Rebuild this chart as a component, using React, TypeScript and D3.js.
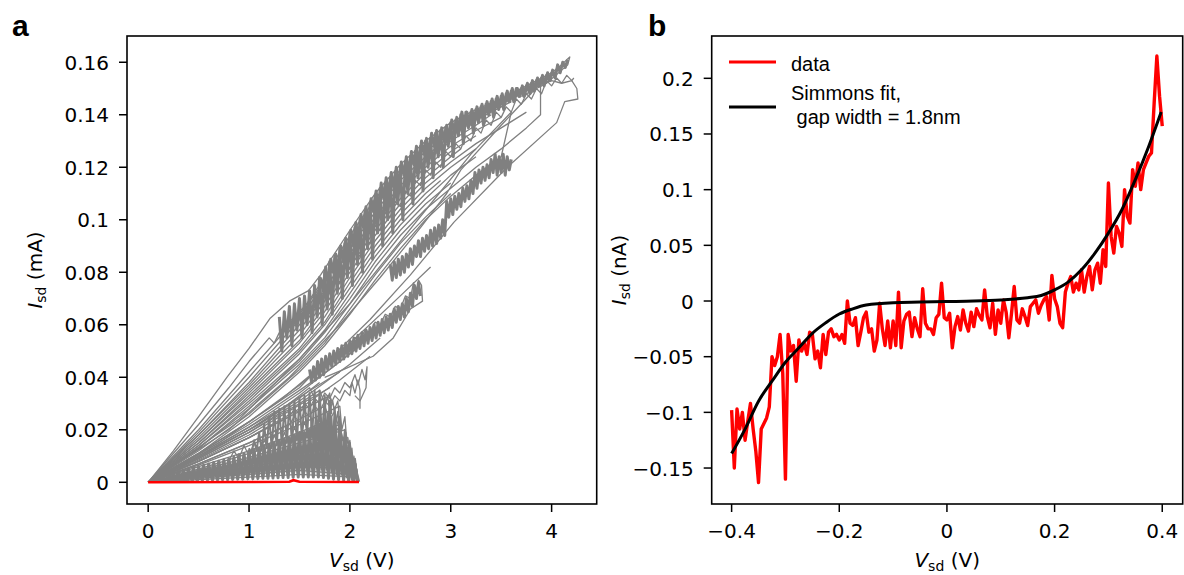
import React from "react";
import * as d3 from "d3";

// ---------------- Panel a : data ----------------
const aXTickValues = [0, 1, 2, 3, 4];
const aXTickLabels = ["0", "1", "2", "3", "4"];
const aYTickValues = [0, 0.02, 0.04, 0.06, 0.08, 0.1, 0.12, 0.14, 0.16];
const aYTickLabels = ["0", "0.02", "0.04", "0.06", "0.08", "0.1", "0.12", "0.14", "0.16"];

// gray I-V sweeps, flat lists of V (V), I (mA) pairs
const aBandSweeps: number[][] = [
  [0,0, .25,.012, .5,.025, .78,.040, 1,.051, 1.21,.0625, 1.4,.069, 1.59,.073, 1.71,.079, 2,.096, 2.25,.110, 2.5,.121, 2.75,.130, 3,.137, 3.25,.142, 3.5,.146, 3.75,.151, 4,.156, 4.1,.159, 4.15,.161, 4.18,.162, 4.16,.159, 4.1,.157, 3.95,.152, 3.7,.147],
  [0,0, .5,.022, .8,.036, 1,.046, 1.2,.055, 1.25,.053, 1.3,.057, 1.45,.063, 1.6,.069, 1.8,.079, 2,.091, 2.25,.106],
  [0,0, .5,.020, 1,.042, 1.5,.064, 1.75,.078, 2,.094, 2.25,.108, 2.5,.119, 2.75,.128, 3,.135, 3.25,.141, 3.5,.145, 3.75,.150, 4,.153, 4.1,.152, 4.2,.153, 4.25,.150, 4.26,.146, 4.13,.145, 4.05,.137, 3.56,.120, 3.03,.099, 2.6,.079, 2.2,.062, 1.8,.047, 1.3,.031, .7,.015, 0,0],
  [0,0, .5,.019, 1,.040, 1.5,.062, 1.75,.076, 2,.092, 2.25,.106, 2.5,.117, 2.75,.126, 3,.133, 3.25,.139, 3.5,.144, 3.75,.149],
  [0,0, .5,.018, 1,.038, 1.5,.060, 1.75,.073, 2,.089, 2.25,.103, 2.5,.115, 2.75,.124, 3,.132, 3.25,.138, 3.5,.143, 3.6,.145],
  [0,0, .5,.018, 1,.037, 1.5,.058, 1.75,.071, 2,.087, 2.25,.101, 2.5,.113, 2.75,.122, 3,.130, 3.25,.136, 3.4,.140],
  [0,0, .5,.017, 1,.036, 1.5,.056, 1.75,.069, 2,.085, 2.25,.099, 2.5,.111, 2.75,.120, 3,.128, 3.25,.134, 3.5,.139],
  [0,0, .5,.016, 1,.035, 1.5,.054, 1.75,.067, 2,.082, 2.25,.096, 2.5,.108, 2.75,.118, 3,.126, 3.25,.132],
  [0,0, .5,.016, 1,.034, 1.5,.053, 1.75,.065, 2,.080, 2.25,.094, 2.5,.106, 2.75,.116, 3,.124, 3.1,.127],
  [0,0, .5,.015, 1,.033, 1.5,.051, 1.75,.063, 2,.078, 2.25,.092, 2.5,.104, 2.75,.114, 3,.122, 3.25,.129, 3.5,.135, 3.75,.141],
  [0,0, .5,.015, 1,.032, 1.5,.050, 1.75,.061, 2,.076, 2.25,.090, 2.5,.102, 2.75,.112, 3,.120, 3.25,.127],
  [0,0, .5,.014, 1,.031, 1.5,.049, 1.75,.060, 2,.074, 2.25,.088, 2.5,.100, 2.75,.110, 2.9,.115],
  [0,0, .5,.014, 1,.030, 1.5,.047, 1.75,.058, 2,.072, 2.25,.086, 2.5,.098, 2.75,.108, 3,.117, 3.25,.124],
  [0,0, .5,.013, 1,.029, 1.5,.046, 1.75,.057, 2,.070, 2.25,.084, 2.5,.096, 2.75,.106, 3,.114],
  [0,0, .5,.013, 1,.028, 1.5,.045, 1.75,.055, 2,.068, 2.25,.082, 2.5,.094, 2.75,.104, 3,.112, 3.25,.120, 3.5,.127, 3.75,.135, 3.89,.140, 3.89,.152, 3.5,.136, 3.1,.119, 2.96,.110, 2.7,.097, 2.3,.078, 1.9,.060, 1.4,.040, .8,.020, 0,0],
  [0,0, .5,.012, 1,.026, 1.5,.043, 1.75,.053, 2,.066, 2.25,.079, 2.5,.091, 2.75,.101, 3,.110],
  [0,0, .5,.011, 1,.025, 1.5,.042, 1.75,.052, 2,.064, 2.25,.077, 2.5,.089, 2.75,.100, 3,.109, 3.25,.117, 3.5,.124, 3.6,.141, 3.2,.125, 2.8,.106, 2.4,.087, 2.0,.068, 1.5,.047, .9,.024, 0,0],
];

const aMidSweeps: number[][] = [
  [1.8,.072, 1.85,.078, 1.9,.076, 1.95,.083, 2.0,.081, 2.05,.088, 2.1,.086, 2.15,.093, 2.2,.091, 2.25,.098, 2.3,.096, 2.35,.103, 2.4,.101, 2.45,.107, 2.5,.105, 2.55,.111, 2.6,.109, 2.65,.115, 2.7,.113, 2.75,.119, 2.8,.117, 2.85,.122, 2.9,.120, 2.95,.126, 3.0,.124, 3.05,.129, 3.1,.127, 3.15,.132, 3.2,.130, 3.25,.135, 3.3,.133, 3.35,.138, 3.4,.136, 3.45,.141, 3.5,.139, 3.55,.143, 3.6,.141, 3.65,.146, 3.7,.144, 3.75,.148, 3.8,.146, 3.85,.150, 3.9,.148, 3.95,.153, 4.0,.151, 4.05,.154, 4.1,.152, 4.15,.155, 4.2,.153, 4.22,.154],
  [0,0, .5,.011, 1.0,.023, 1.5,.036, 1.6,.040, 1.65,.043, 1.7,.042, 1.75,.046, 1.8,.045, 1.85,.049, 1.9,.048, 1.95,.052, 2.0,.051, 2.05,.055, 2.1,.054, 2.15,.058, 2.2,.057, 2.25,.061, 2.3,.060, 2.35,.064, 2.4,.063, 2.45,.067, 2.5,.066, 2.55,.071, 2.6,.070, 2.63,.076, 2.66,.072, 2.68,.077, 2.71,.075, 2.72,.069, 2.6,.066, 2.43,.055, 2.23,.048, 1.94,.043, 1.75,.040],
  [0,0, .5,.011, 1.0,.023, 1.5,.037, 2.0,.053, 2.5,.071, 2.8,.082],
  [0,0, .5,.010, 1.0,.021, 1.5,.034, 2.0,.049, 2.4,.063],
  [0,0, .5,.009, 1.0,.019, 1.5,.031, 2.0,.045, 2.3,.055],
  [0,0, .5,.008, 1.0,.017, 1.5,.028, 1.9,.039, 2.2,.048],
  [0,0, .5,.0105, 1.0,.022, 1.5,.035, 1.8,.043, 2.1,.052],
  [0,0, .5,.0095, 1.0,.020, 1.5,.0325, 1.9,.042],
  [0,0, .5,.0085, 1.0,.018, 1.5,.0295, 1.8,.036],
  [0,0, .5,.008, 1.0,.017, 1.4,.025, 1.45,.028, 1.5,.026, 1.55,.030, 1.6,.028, 1.65,.032, 1.7,.030, 1.75,.034, 1.8,.032, 1.85,.036, 1.9,.034, 1.95,.038, 2.0,.036, 2.05,.041, 2.08,.037, 2.12,.043, 2.15,.039, 2.17,.044, 2.16,.036, 2.1,.031, 2.05,.033],
  [0,0, .5,.007, 1.0,.015, 1.4,.022, 1.45,.025, 1.5,.023, 1.55,.027, 1.6,.025, 1.65,.029, 1.7,.027, 1.75,.031, 1.8,.029, 1.85,.033, 1.9,.031, 1.95,.035, 2.0,.033, 2.02,.038, 2.05,.034, 2.08,.039, 2.1,.035, 2.1,.028],
  [1.75,.028, 1.78,.033, 1.8,.027, 1.83,.031, 1.86,.022, 1.88,.027, 1.9,.018, 1.9,.024],
];

const aLowSweeps: number[][] = [
  [0,0, .5,.009, 1,.019, 1.5,.030, 1.7,.035, 1.75,.030, 1.8,.034, 1.82,.026],
  [0,0, .5,.008, 1,.017, 1.5,.027, 1.8,.033, 1.85,.028, 1.88,.031, 1.9,.022],
  [0,0, .5,.007, 1,.015, 1.5,.024, 1.75,.029, 1.8,.024, 1.85,.027, 1.9,.019],
  [0,0, .5,.0065, 1,.014, 1.5,.022, 1.9,.029, 1.92,.020, 1.95,.025, 1.97,.015],
  [0,0, .5,.006, 1,.012, 1.5,.019, 1.8,.024, 1.85,.018, 1.9,.022, 1.95,.012],
  [0,0, .5,.005, 1,.011, 1.5,.017, 1.9,.022, 1.93,.016, 1.96,.019, 2.0,.010],
  [0,0, .5,.0045, 1,.0095, 1.5,.015, 1.95,.020, 1.97,.012, 2.0,.016, 2.02,.007],
  [0,0, .5,.004, 1,.008, 1.5,.013, 1.98,.017, 2.0,.010, 2.02,.013, 2.04,.004],
  [0,0, .5,.0035, 1,.007, 1.5,.011, 2.0,.014, 2.02,.007, 2.04,.010, 2.06,.002],
  [0,0, .5,.003, 1,.006, 1.5,.009, 2.02,.011, 2.04,.005, 2.06,.007, 2.07,.001],
  [0,0, .5,.0025, 1,.005, 1.5,.0075, 2.05,.008, 2.07,.002],
  [0,0, .5,.002, 1,.004, 1.5,.006, 2.07,.005, 2.08,.0005],
  [0,0, .5,.0015, 1,.003, 1.5,.0045, 2.0,.003],
  [0,0, .5,.001, 1,.002, 1.5,.003, 2.05,.002],
  [0,0, .5,.010, 1,.021, 1.4,.030, 1.6,.036, 1.65,.032],
  [0,0, .5,.0095, 1,.020, 1.3,.027],
  [0,0, .6,.012, 1.1,.022, 1.5,.032, 1.7,.038],
  [1.6,.015, 1.62,.024, 1.64,.014, 1.66,.026, 1.68,.016, 1.7,.027, 1.72,.015, 1.74,.028, 1.76,.014, 1.78,.026, 1.8,.012, 1.82,.025, 1.84,.010, 1.86,.022, 1.88,.008, 1.9,.020, 1.92,.007, 1.94,.017, 1.96,.005, 1.98,.013, 2.0,.004, 2.02,.010, 2.04,.002, 2.06,.006, 2.07,.001],
  [0.8,.008, .85,.012, .9,.009, .95,.014, 1.0,.010, 1.05,.015, 1.1,.011, 1.15,.016, 1.2,.012, 1.25,.018, 1.3,.013, 1.35,.019, 1.4,.014, 1.45,.021, 1.5,.016, 1.55,.023, 1.6,.017],
];

// noisy sweeps sampled on a regular voltage grid (start V, step V, currents in mA)
const aNoiseBandStart = 1.3, aNoiseBandStep = 0.025;
const aNoiseBand = [
  .063,.050,.065,.055,.067,.052,.068,.058,.070,.055,
  .071,.060,.073,.057,.075,.063,.078,.060,.080,.066,
  .084,.064,.086,.072,.089,.070,.091,.078,.095,.075,
  .097,.083,.100,.080,.103,.089,.106,.085,.109,.095,
  .112,.090,.114,.100,.116,.095,.118,.106,.120,.100,
  .122,.110,.124,.106,.126,.116,.128,.111,.130,.120,
  .131,.116,.133,.124,.134,.120,.135,.128,.137,.124,
  .138,.132,.140,.129,.141,.135,.141,.133,.142,.137,
  .143,.136,.144,.140,.145,.139,.146,.142,.147,.142,
  .148,.145,.149,.145,.150,.147,.150,.147,.151,.149,
  .152,.149,.153,.151,.154,.151,.155,.153,.156,
];
const aNoiseTopStart = 1.71, aNoiseTopStep = 0.025;
const aNoiseTop = [
  .078,.073,.082,.075,.085,.080,.087,.079,.090,.084,
  .093,.085,.096,.090,.099,.091,.102,.097,.105,.097,
  .108,.103,.111,.103,.114,.108,.116,.108,.118,.112,
  .120,.112,.122,.117,.124,.117,.126,.121,.128,.121,
  .130,.125,.131,.125,.133,.128,.134,.127,.135,.130,
  .136,.131,.138,.133,.139,.134,.141,.136,.141,.136,
  .142,.138,.143,.139,.144,.140,.145,.141,.146,.142,
  .147,.143,.148,.144,.149,.145,.150,.146,.150,.147,
  .151,.148,.152,.148,.153,.150,.154,.151,.155,.152,
  .156,.153,.157,.154,.159,.156,.160,.158,.161,
];
const aNoiseRightStart = 2.4, aNoiseRightStep = 0.02;
const aNoiseRight = [
  .083,.077,.084,.078,.085,.079,.086,.080,.087,.082,
  .089,.083,.090,.086,.092,.086,.093,.088,.094,.089,
  .096,.090,.097,.091,.098,.093,.100,.094,.107,.101,
  .108,.102,.109,.104,.110,.105,.112,.107,.113,.108,
  .115,.110,.118,.112,.119,.114,.120,.115,.121,.116,
  .123,.118,.125,.117,.124,.118,.125,.117,.124,.119,
  .123,
];
const aNoiseMidStart = 1.6, aNoiseMidStep = 0.02;
const aNoiseMid = [
  .043,.038,.044,.039,.046,.040,.047,.041,.048,.043,
  .049,.044,.050,.045,.051,.046,.052,.047,.053,.048,
  .054,.049,.055,.050,.056,.051,.057,.052,.058,.053,
  .059,.054,.060,.055,.061,.056,.062,.057,.063,.058,
  .064,.059,.066,.061,.067,.062,.068,.063,.070,.065,
  .072,.067,.075,.070,.076,.071,
];
const aNoiseUpperLowStart = 1.0, aNoiseUpperLowStep = 0.025;
const aNoiseUpperLow = [
  .013,.011,.016,.012,.019,.012,.022,.013,.025,.013,
  .027,.014,.028,.014,.029,.015,.030,.015,.031,.016,
  .032,.016,.033,.017,.034,.017,.035,.016,.035,.015,
  .033,.014,.031,.012,.028,.010,.025,.008,.020,.006,
  .015,.004,.009,.001,
];
const aNoiseLowStart = 0.2, aNoiseLowStep = 0.025;
const aNoiseLow = [
  .003,.0005,.0035,.001,.004,.001,.0045,.001,.005,.0015,
  .0055,.0015,.006,.002,.0065,.002,.007,.002,.0075,.0025,
  .008,.0025,.0085,.003,.009,.003,.0095,.003,.0105,.0035,
  .011,.0035,.012,.004,.0125,.004,.013,.0045,.014,.0045,
  .0145,.005,.015,.005,.016,.005,.0165,.0055,.017,.0055,
  .018,.006,.019,.006,.019,.006,.020,.006,.021,.006,
  .022,.005,.024,.005,.023,.004,.021,.003,.019,.003,
  .015,.002,.012,.001,.007,.0005,
];
const aNoiseFloorStart = 0.2125, aNoiseFloorStep = 0.025;
const aNoiseFloor = [
  .0015,.0003,.002,.0004,.0024,.0005,.0028,.0005,.0032,.0006,
  .0035,.0006,.0038,.0007,.0042,.0008,.0046,.0008,.005,.0009,
  .0053,.001,.0056,.001,.006,.0011,.0064,.0012,.0068,.0012,
  .0071,.0013,.0075,.0013,.0078,.0014,.0082,.0015,.0086,.0015,
  .009,.0016,.0093,.0017,.0096,.0018,.010,.0018,.0104,.0019,
  .0107,.002,.011,.002,.0114,.002,.0118,.002,.012,.002,
  .0125,.0018,.013,.0015,.012,.0012,.0115,.001,.010,.0008,
  .008,.0006,.006,.0004,.004,.0002,
];

const aRedTrace = [0,0, 1.0,.0001, 1.4,.0002, 1.44,.0008, 1.5,.0002, 2.09,.0001];

// ---------------- Panel b : data ----------------
const bXTickValues = [-0.4, -0.2, 0, 0.2, 0.4];
const bXTickLabels = ["\u22120.4", "\u22120.2", "0", "0.2", "0.4"];
const bYTickValues = [-0.15, -0.1, -0.05, 0, 0.05, 0.1, 0.15, 0.2];
const bYTickLabels = ["\u22120.15", "\u22120.1", "\u22120.05", "0", "0.05", "0.1", "0.15", "0.2"];

const bVoltStart = -0.4;
const bVoltStep = 0.005;
const bDataCurrent = [
  -0.098,-0.150,-0.097,-0.115,-0.100,-0.125,-0.108,-0.092,-0.115,-0.135,
  -0.163,-0.115,-0.110,-0.105,-0.095,-0.050,-0.058,-0.050,-0.030,-0.065,
  -0.160,-0.030,-0.045,-0.040,-0.072,-0.035,-0.045,-0.038,-0.048,-0.028,
  -0.030,-0.052,-0.045,-0.060,-0.030,-0.048,-0.028,-0.025,-0.032,-0.030,
  -0.035,-0.030,-0.038,0.000,-0.020,-0.022,-0.015,-0.040,-0.028,-0.015,
  -0.010,-0.028,-0.025,-0.045,-0.035,-0.002,-0.025,-0.040,-0.018,-0.042,
  -0.018,-0.040,0.008,-0.042,-0.018,-0.012,-0.010,-0.032,-0.015,-0.025,
  -0.032,0.011,-0.020,-0.025,-0.025,-0.030,-0.015,-0.012,0.016,-0.015,
  -0.017,
  -0.011,-0.042,-0.023,-0.014,-0.026,-0.008,-0.020,-0.027,-0.010,-0.023,
  -0.007,-0.013,-0.017,0.010,-0.014,-0.024,-0.002,-0.030,-0.008,-0.020,
  0.001,-0.010,-0.033,-0.011,0.013,-0.017,-0.020,-0.007,-0.014,-0.022,
  -0.005,-0.002,0.001,-0.011,-0.004,0.001,0.004,-0.017,0.023,0.002,
  -0.005,-0.020,-0.024,0.008,0.016,0.022,0.008,0.016,0.010,0.028,
  0.008,0.022,0.031,0.010,0.028,0.034,0.016,0.046,0.031,0.106,
  0.058,0.043,0.067,0.061,0.049,0.100,0.076,0.070,0.118,0.103,
  0.124,0.100,0.118,0.124,0.130,0.133,0.178,0.220,0.184,0.157,
];
const bFitVolt = [-0.4,-0.375,-0.35,-0.325,-0.3,-0.275,-0.25,-0.225,-0.2,-0.175,-0.15,-0.1,-0.05,0,0.05,0.1,0.15,0.175,0.2,0.225,0.25,0.275,0.3,0.325,0.35,0.375,0.398];
const bFitCurrent = [-0.137,-0.115,-0.090,-0.072,-0.055,-0.042,-0.029,-0.0195,-0.0117,-0.007,-0.0036,-0.0015,-0.001,-0.0005,0.0,0.001,0.003,0.005,0.010,0.017,0.028,0.043,0.061,0.082,0.109,0.139,0.1697];
const bLegendLabels = ["data", "Simmons fit,", " gap width = 1.8nm"];

// ---------------- helpers ----------------
const pairs = (flat: number[]): [number, number][] => {
  const out: [number, number][] = [];
  for (let k = 0; k + 1 < flat.length; k += 2) out.push([flat[k], flat[k + 1]]);
  return out;
};
const gridded = (v0: number, dv: number, vals: number[]): [number, number][] =>
  vals.map((c, k) => [v0 + k * dv, c]);

const AX = "DejaVu Sans, Verdana, sans-serif";
const LG = "Liberation Sans, Arial, sans-serif";
const TICK_FS = 20;

type Lin = d3.ScaleLinear<number, number>;

function Frame({ x, y, xt, xl, yt, yl }: { x: Lin; y: Lin; xt: number[]; xl: string[]; yt: number[]; yl: string[] }) {
  const [x0, x1] = x.range();
  const [y0, y1] = y.range();
  return (
    <g>
      <rect x={x0} y={y1} width={x1 - x0} height={y0 - y1} fill="none" stroke="#000" strokeWidth={1.6} />
      {xt.map((v, k) => (
        <g key={"x" + k}>
          <line x1={x(v)} x2={x(v)} y1={y0} y2={y0 + 8} stroke="#000" strokeWidth={1.5} />
          <text x={x(v)} y={y0 + 34} textAnchor="middle" fontFamily={AX} fontSize={TICK_FS} fill="#000">{xl[k]}</text>
        </g>
      ))}
      {yt.map((v, k) => (
        <g key={"y" + k}>
          <line x1={x0 - 8} x2={x0} y1={y(v)} y2={y(v)} stroke="#000" strokeWidth={1.5} />
          <text x={x0 - 18} y={y(v) + 7.5} textAnchor="end" fontFamily={AX} fontSize={TICK_FS} fill="#000">{yl[k]}</text>
        </g>
      ))}
    </g>
  );
}

function SubLabel({ sym, sub, rest, transform }: { sym: string; sub: string; rest: string; transform: string }) {
  return (
    <text transform={transform} textAnchor="middle" fontFamily={AX} fontSize={TICK_FS} fill="#000">
      <tspan fontStyle="italic">{sym}</tspan>
      <tspan fontSize={14} dy={4}>{sub}</tspan>
      <tspan dy={-4}>{rest}</tspan>
    </text>
  );
}

export default function App() {
  const ax = d3.scaleLinear().domain([-0.21, 4.447]).range([127, 596.7]);
  const ay = d3.scaleLinear().domain([-0.00827, 0.170]).range([504, 36]);
  const bx = d3.scaleLinear().domain([-0.437, 0.438]).range([711.7, 1182.7]);
  const by = d3.scaleLinear().domain([-0.1823, 0.238]).range([504, 36]);

  const aLine = d3.line<[number, number]>().x((d) => ax(d[0])).y((d) => ay(d[1]));
  const bLine = d3.line<[number, number]>().x((d) => bx(d[0])).y((d) => by(d[1]));
  const bFitLine = d3
    .line<[number, number]>()
    .x((d) => bx(d[0]))
    .y((d) => by(d[1]))
    .curve(d3.curveMonotoneX);

  const bData = gridded(bVoltStart, bVoltStep, bDataCurrent);
  const bFit: [number, number][] = bFitVolt.map((v, k) => [v, bFitCurrent[k]]);

  const thinTraces: [number, number][][] = [
    ...aLowSweeps.map(pairs),
    ...aBandSweeps.map(pairs),
    ...aMidSweeps.map(pairs),
  ];
  const noisyTraces: [number, number][][] = [
    gridded(aNoiseFloorStart, aNoiseFloorStep, aNoiseFloor),
    gridded(aNoiseLowStart, aNoiseLowStep, aNoiseLow),
    gridded(aNoiseMidStart, aNoiseMidStep, aNoiseMid),
    gridded(aNoiseRightStart, aNoiseRightStep, aNoiseRight),
    gridded(aNoiseBandStart, aNoiseBandStep, aNoiseBand),
    gridded(aNoiseTopStart, aNoiseTopStep, aNoiseTop),
  ];
  const upperLow = gridded(aNoiseUpperLowStart, aNoiseUpperLowStep, aNoiseUpperLow);

  return (
    <svg width={1184} height={575} style={{ position: "absolute", left: 0, top: 0, background: "#fff" }}>
      <rect x={0} y={0} width={1184} height={575} fill="#fff" />
      <defs>
        <clipPath id="clipA">
          <rect x={127} y={36} width={469.7} height={468} />
        </clipPath>
        <clipPath id="clipB">
          <rect x={711.7} y={36} width={471} height={468} />
        </clipPath>
      </defs>

      {/* panel a */}
      <g clipPath="url(#clipA)">
        {thinTraces.map((t, k) => (
          <path key={"t" + k} d={aLine(t) || ""} fill="none" stroke="#808080" strokeWidth={1.3} strokeLinejoin="round" />
        ))}
        <path d={aLine(upperLow) || ""} fill="none" stroke="#808080" strokeWidth={2} strokeLinejoin="round" />
        {noisyTraces.map((t, k) => (
          <path key={"n" + k} d={aLine(t) || ""} fill="none" stroke="#808080" strokeWidth={3} strokeLinejoin="round" />
        ))}
        <path d={aLine(pairs(aRedTrace)) || ""} fill="none" stroke="#ff0000" strokeWidth={2.6} />
      </g>
      <Frame x={ax} y={ay} xt={aXTickValues} xl={aXTickLabels} yt={aYTickValues} yl={aYTickLabels} />
      <SubLabel sym="V" sub="sd" rest=" (V)" transform={`translate(${(127 + 596.7) / 2},567)`} />
      <SubLabel sym="I" sub="sd" rest=" (mA)" transform="translate(42,270) rotate(-90)" />
      <text x={12} y={36} fontFamily={LG} fontWeight="bold" fontSize={30} fill="#000">a</text>

      {/* panel b */}
      <g clipPath="url(#clipB)">
        <path d={bLine(bData) || ""} fill="none" stroke="#ff0000" strokeWidth={3.4} strokeLinejoin="round" />
        <path d={bFitLine(bFit) || ""} fill="none" stroke="#000" strokeWidth={3} />
      </g>
      <Frame x={bx} y={by} xt={bXTickValues} xl={bXTickLabels} yt={bYTickValues} yl={bYTickLabels} />
      <SubLabel sym="V" sub="sd" rest=" (V)" transform={`translate(${(711.7 + 1182.7) / 2},567)`} />
      <SubLabel sym="I" sub="sd" rest=" (nA)" transform="translate(626,270) rotate(-90)" />
      <text x={648} y={36} fontFamily={LG} fontWeight="bold" fontSize={30} fill="#000">b</text>

      {/* legend */}
      <line x1={729} x2={776} y1={62} y2={62} stroke="#ff0000" strokeWidth={3} />
      <line x1={729} x2={776} y1={107} y2={107} stroke="#000" strokeWidth={3} />
      <text x={791} y={71} fontFamily={LG} fontSize={20} fill="#000">{bLegendLabels[0]}</text>
      <text x={791} y={100} fontFamily={LG} fontSize={20} fill="#000">{bLegendLabels[1]}</text>
      <text x={791} y={124} fontFamily={LG} fontSize={20} fill="#000" style={{ whiteSpace: "pre" }}>{bLegendLabels[2]}</text>
    </svg>
  );
}
